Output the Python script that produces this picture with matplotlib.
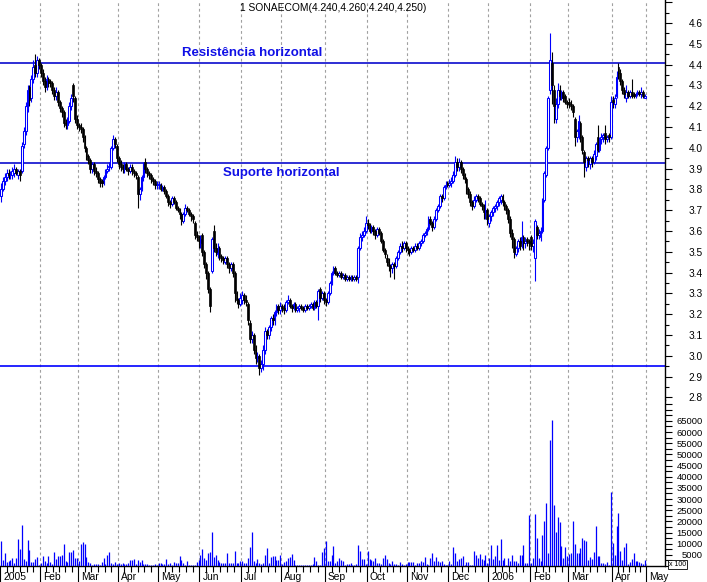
import matplotlib
matplotlib.use('Agg')
import matplotlib.pyplot as plt
import matplotlib.transforms as mtransforms
from matplotlib.ticker import MultipleLocator, FuncFormatter, FixedLocator
import numpy as np
import pandas as pd

plt.rcParams['font.family'] = ['Liberation Sans', 'DejaVu Sans']

# ---------------- data ----------------
title = "1 SONAECOM(4.240,4.260,4.240,4.250)"
holidays = ['2005-03-25', '2005-03-28', '2005-12-26', '2006-04-14', '2006-04-17']
month_labels = ['2005', 'Feb', 'Mar', 'Apr', 'May', 'Jun', 'Jul', 'Aug', 'Sep',
                'Oct', 'Nov', 'Dec', '2006', 'Feb', 'Mar', 'Apr', 'May']

opens = [
    3.77, 3.80, 3.84, 3.86, 3.88, 3.87, 3.87, 3.88, 3.90, 3.87, 3.89, 3.89, 4.02, 4.08, 4.19, 4.29, 4.24, 4.33, 4.40, 4.36, 4.42,
    4.40, 4.36, 4.32, 4.29, 4.33, 4.32, 4.31, 4.28, 4.25, 4.27, 4.22, 4.19, 4.17, 4.12, 4.11, 4.13, 4.20, 4.30, 4.24, 4.14,
    4.11, 4.10, 4.09, 4.05, 4.00, 3.96, 3.94, 3.90, 3.92, 3.89, 3.88, 3.85, 3.84, 3.83, 3.86, 3.89, 3.91, 3.91, 4.00, 4.04, 4.01,
    3.95, 3.92, 3.91, 3.90, 3.92, 3.90, 3.89, 3.91, 3.89, 3.88, 3.86, 3.78, 3.80, 3.86, 3.93, 3.90, 3.88, 3.87, 3.85, 3.84, 3.82,
    3.82, 3.82, 3.80, 3.81, 3.79, 3.77, 3.74, 3.73, 3.76, 3.74, 3.71, 3.70, 3.68, 3.65, 3.68, 3.71, 3.70, 3.68, 3.67, 3.64, 3.58, 3.57,
    3.54, 3.58, 3.50, 3.44, 3.40, 3.32, 3.41, 3.60, 3.52, 3.49, 3.52, 3.48, 3.47, 3.45, 3.47, 3.44, 3.42, 3.44, 3.40, 3.30, 3.27, 3.25,
    3.27, 3.29, 3.27, 3.25, 3.16, 3.08, 3.10, 3.03, 2.99, 3.00, 2.94, 2.96, 3.03, 3.12, 3.10, 3.14, 3.18, 3.17, 3.21, 3.24, 3.22,
    3.24, 3.23, 3.22, 3.26, 3.27, 3.24, 3.23, 3.25, 3.22, 3.23, 3.24, 3.23, 3.22, 3.24, 3.23, 3.24, 3.25, 3.23, 3.26, 3.24, 3.32, 3.28, 3.30,
    3.27, 3.26, 3.30, 3.35, 3.40, 3.42, 3.40, 3.39, 3.40, 3.38, 3.39, 3.37, 3.38, 3.37, 3.38, 3.37, 3.38, 3.38, 3.52, 3.57, 3.58, 3.60,
    3.64, 3.63, 3.60, 3.62, 3.60, 3.58, 3.61, 3.59, 3.55, 3.51, 3.47, 3.45, 3.43, 3.42, 3.44, 3.43, 3.47, 3.50, 3.53, 3.52, 3.54,
    3.52, 3.51, 3.50, 3.52, 3.51, 3.53, 3.52, 3.54, 3.55, 3.58, 3.59, 3.61, 3.66, 3.64, 3.62, 3.66, 3.70, 3.72, 3.77, 3.76, 3.81, 3.83,
    3.82, 3.83, 3.84, 3.87, 3.93, 3.91, 3.93, 3.90, 3.87, 3.85, 3.80, 3.78, 3.74, 3.72, 3.75, 3.77, 3.76, 3.73, 3.72, 3.69, 3.70,
    3.64, 3.67, 3.69, 3.71, 3.72, 3.74, 3.75, 3.77, 3.74, 3.72, 3.70, 3.66, 3.59, 3.56, 3.49, 3.52, 3.55, 3.54, 3.57, 3.54, 3.56, 3.55,
    3.57, 3.53, 3.47, 3.62, 3.58, 3.57, 3.60, 3.75, 3.87, 4.00, 4.28, 4.41, 4.28, 4.14, 4.21, 4.28, 4.24, 4.27, 4.25, 4.22,
    4.22, 4.21, 4.20, 4.14, 4.05, 4.06, 4.12, 4.05, 3.98, 3.91, 3.95, 3.92, 3.95, 3.93, 3.96, 4.05, 3.99, 4.04, 4.05, 4.07, 4.04, 4.06, 4.05,
    4.23, 4.21, 4.25, 4.39, 4.36, 4.32, 4.28, 4.24, 4.27, 4.25, 4.27, 4.26, 4.25, 4.26, 4.27, 4.26, 4.27, 4.24,
]
highs = [
    3.83, 3.86, 3.88, 3.90, 3.90, 3.89, 3.91, 3.92, 3.91, 3.90, 3.90, 4.03, 4.10, 4.22, 4.30, 4.30, 4.35, 4.42, 4.45, 4.44, 4.43,
    4.41, 4.38, 4.34, 4.35, 4.34, 4.33, 4.32, 4.29, 4.29, 4.28, 4.23, 4.20, 4.18, 4.14, 4.15, 4.22, 4.26, 4.31, 4.25, 4.16,
    4.12, 4.12, 4.10, 4.06, 4.01, 3.97, 3.95, 3.93, 3.93, 3.91, 3.89, 3.86, 3.85, 3.87, 3.90, 3.92, 3.93, 4.01, 4.06, 4.05, 4.02,
    3.96, 3.94, 3.92, 3.93, 3.93, 3.91, 3.92, 3.92, 3.90, 3.89, 3.87, 3.81, 3.87, 3.93, 3.95, 3.91, 3.89, 3.88, 3.86, 3.85, 3.84,
    3.84, 3.83, 3.82, 3.82, 3.80, 3.78, 3.75, 3.77, 3.77, 3.75, 3.72, 3.71, 3.69, 3.69, 3.73, 3.72, 3.71, 3.69, 3.68, 3.65, 3.60, 3.58,
    3.58, 3.59, 3.51, 3.45, 3.41, 3.33, 3.57, 3.63, 3.54, 3.54, 3.53, 3.49, 3.48, 3.48, 3.48, 3.45, 3.45, 3.45, 3.41, 3.31, 3.28, 3.30,
    3.31, 3.30, 3.29, 3.26, 3.17, 3.12, 3.11, 3.05, 3.02, 3.01, 2.98, 3.05, 3.14, 3.13, 3.15, 3.19, 3.20, 3.22, 3.25, 3.25, 3.26,
    3.25, 3.25, 3.27, 3.29, 3.28, 3.25, 3.26, 3.26, 3.24, 3.25, 3.25, 3.24, 3.25, 3.25, 3.25, 3.26, 3.26, 3.27, 3.27, 3.32, 3.33, 3.31, 3.31,
    3.28, 3.31, 3.36, 3.41, 3.43, 3.43, 3.41, 3.41, 3.41, 3.40, 3.40, 3.39, 3.39, 3.39, 3.39, 3.39, 3.39, 3.53, 3.59, 3.60, 3.62, 3.67,
    3.66, 3.64, 3.63, 3.63, 3.61, 3.62, 3.62, 3.60, 3.56, 3.52, 3.49, 3.47, 3.44, 3.45, 3.45, 3.48, 3.51, 3.54, 3.55, 3.55, 3.55,
    3.53, 3.52, 3.53, 3.53, 3.54, 3.54, 3.55, 3.56, 3.59, 3.60, 3.62, 3.67, 3.67, 3.65, 3.67, 3.71, 3.73, 3.78, 3.78, 3.82, 3.84, 3.84,
    3.85, 3.86, 3.89, 3.96, 3.95, 3.95, 3.94, 3.91, 3.88, 3.86, 3.81, 3.79, 3.75, 3.77, 3.78, 3.78, 3.77, 3.74, 3.73, 3.75, 3.71,
    3.68, 3.70, 3.72, 3.73, 3.75, 3.77, 3.78, 3.78, 3.75, 3.73, 3.71, 3.67, 3.61, 3.57, 3.53, 3.56, 3.57, 3.65, 3.58, 3.57, 3.57, 3.56,
    3.58, 3.56, 3.66, 3.63, 3.61, 3.62, 3.76, 3.89, 4.01, 4.25, 4.55, 4.46, 4.30, 4.24, 4.31, 4.30, 4.28, 4.28, 4.26, 4.23,
    4.24, 4.23, 4.21, 4.15, 4.09, 4.16, 4.13, 4.06, 3.99, 3.96, 3.96, 3.96, 3.96, 3.99, 4.03, 4.11, 4.05, 4.07, 4.07, 4.11, 4.06, 4.07, 4.25,
    4.25, 4.26, 4.37, 4.41, 4.38, 4.33, 4.29, 4.30, 4.28, 4.28, 4.33, 4.27, 4.27, 4.28, 4.28, 4.29, 4.28, 4.26,
]
lows = [
    3.74, 3.79, 3.82, 3.84, 3.85, 3.85, 3.85, 3.86, 3.87, 3.85, 3.84, 3.88, 4.00, 4.06, 4.17, 4.20, 4.22, 4.31, 4.34, 4.34, 4.38,
    4.34, 4.30, 4.27, 4.28, 4.29, 4.29, 4.26, 4.23, 4.23, 4.20, 4.17, 4.15, 4.10, 4.09, 4.09, 4.12, 4.18, 4.22, 4.12, 4.09,
    4.08, 4.07, 4.03, 3.98, 3.94, 3.92, 3.88, 3.88, 3.87, 3.86, 3.83, 3.81, 3.81, 3.82, 3.85, 3.88, 3.89, 3.90, 3.99, 4.00, 3.93,
    3.90, 3.89, 3.88, 3.88, 3.89, 3.87, 3.88, 3.87, 3.86, 3.85, 3.71, 3.75, 3.79, 3.84, 3.88, 3.86, 3.85, 3.83, 3.82, 3.80, 3.80,
    3.80, 3.79, 3.79, 3.78, 3.76, 3.72, 3.71, 3.72, 3.73, 3.70, 3.69, 3.66, 3.63, 3.64, 3.67, 3.69, 3.67, 3.65, 3.64, 3.56, 3.55, 3.52,
    3.52, 3.48, 3.42, 3.37, 3.30, 3.21, 3.40, 3.50, 3.48, 3.47, 3.46, 3.45, 3.44, 3.44, 3.42, 3.40, 3.41, 3.38, 3.26, 3.25, 3.23, 3.24,
    3.25, 3.25, 3.24, 3.15, 3.06, 3.06, 3.01, 2.96, 2.97, 2.91, 2.92, 2.93, 3.01, 3.08, 3.08, 3.12, 3.15, 3.15, 3.19, 3.20, 3.20,
    3.21, 3.20, 3.21, 3.25, 3.23, 3.21, 3.22, 3.21, 3.21, 3.21, 3.22, 3.21, 3.21, 3.22, 3.22, 3.23, 3.22, 3.22, 3.23, 3.17, 3.26, 3.27, 3.25,
    3.24, 3.25, 3.29, 3.34, 3.39, 3.39, 3.38, 3.38, 3.37, 3.37, 3.36, 3.36, 3.36, 3.36, 3.36, 3.36, 3.36, 3.35, 3.51, 3.55, 3.57, 3.59,
    3.61, 3.59, 3.59, 3.58, 3.56, 3.57, 3.58, 3.54, 3.50, 3.47, 3.43, 3.41, 3.38, 3.40, 3.37, 3.42, 3.46, 3.49, 3.50, 3.51, 3.50,
    3.49, 3.48, 3.49, 3.50, 3.50, 3.51, 3.51, 3.53, 3.54, 3.57, 3.58, 3.60, 3.63, 3.60, 3.61, 3.65, 3.69, 3.71, 3.74, 3.75, 3.80, 3.81,
    3.81, 3.81, 3.83, 3.86, 3.89, 3.89, 3.88, 3.85, 3.83, 3.78, 3.76, 3.72, 3.70, 3.71, 3.74, 3.74, 3.72, 3.70, 3.66, 3.66, 3.63,
    3.62, 3.65, 3.67, 3.69, 3.70, 3.72, 3.73, 3.72, 3.70, 3.68, 3.64, 3.57, 3.52, 3.47, 3.48, 3.50, 3.51, 3.52, 3.51, 3.52, 3.53, 3.51,
    3.51, 3.50, 3.36, 3.56, 3.56, 3.55, 3.59, 3.74, 3.86, 3.99, 4.26, 4.21, 4.12, 4.12, 4.19, 4.23, 4.23, 4.22, 4.21, 4.19,
    4.19, 4.18, 4.15, 4.01, 4.03, 4.04, 4.03, 3.97, 3.86, 3.89, 3.91, 3.90, 3.91, 3.92, 3.94, 3.98, 3.98, 4.02, 4.03, 4.02, 4.03, 4.03, 4.04,
    4.19, 4.19, 4.24, 4.33, 4.30, 4.26, 4.24, 4.22, 4.24, 4.24, 4.24, 4.24, 4.24, 4.25, 4.25, 4.24, 4.24, 4.24,
]
closes = [
    3.80, 3.84, 3.86, 3.88, 3.87, 3.88, 3.89, 3.90, 3.88, 3.89, 3.87, 4.01, 4.08, 4.20, 4.28, 4.23, 4.33, 4.39, 4.36, 4.42, 4.40,
    4.36, 4.32, 4.29, 4.33, 4.31, 4.31, 4.28, 4.25, 4.27, 4.22, 4.19, 4.17, 4.12, 4.11, 4.13, 4.20, 4.24, 4.25, 4.14, 4.11,
    4.10, 4.09, 4.05, 4.00, 3.96, 3.94, 3.90, 3.92, 3.89, 3.88, 3.85, 3.83, 3.83, 3.86, 3.89, 3.90, 3.91, 4.00, 4.04, 4.02, 3.95,
    3.92, 3.91, 3.90, 3.92, 3.90, 3.89, 3.91, 3.89, 3.88, 3.87, 3.78, 3.80, 3.86, 3.92, 3.90, 3.88, 3.87, 3.85, 3.84, 3.82, 3.82,
    3.82, 3.80, 3.81, 3.79, 3.77, 3.74, 3.73, 3.76, 3.74, 3.71, 3.70, 3.68, 3.65, 3.68, 3.71, 3.70, 3.68, 3.67, 3.66, 3.58, 3.57, 3.55,
    3.56, 3.50, 3.44, 3.40, 3.32, 3.24, 3.56, 3.52, 3.50, 3.52, 3.48, 3.47, 3.46, 3.47, 3.44, 3.42, 3.44, 3.40, 3.30, 3.27, 3.25, 3.28,
    3.29, 3.27, 3.26, 3.17, 3.08, 3.10, 3.03, 2.99, 3.00, 2.94, 2.96, 3.03, 3.12, 3.10, 3.14, 3.18, 3.17, 3.21, 3.24, 3.22, 3.24,
    3.23, 3.22, 3.26, 3.27, 3.24, 3.23, 3.25, 3.22, 3.23, 3.24, 3.23, 3.22, 3.24, 3.23, 3.24, 3.25, 3.23, 3.26, 3.24, 3.31, 3.28, 3.30, 3.27,
    3.26, 3.30, 3.35, 3.40, 3.42, 3.40, 3.39, 3.40, 3.38, 3.39, 3.37, 3.38, 3.37, 3.38, 3.37, 3.38, 3.37, 3.52, 3.57, 3.58, 3.60, 3.64,
    3.63, 3.60, 3.62, 3.60, 3.58, 3.61, 3.59, 3.55, 3.51, 3.49, 3.45, 3.43, 3.42, 3.44, 3.43, 3.47, 3.50, 3.53, 3.52, 3.54, 3.52,
    3.51, 3.50, 3.52, 3.51, 3.53, 3.52, 3.54, 3.55, 3.58, 3.59, 3.61, 3.66, 3.64, 3.62, 3.66, 3.70, 3.72, 3.77, 3.76, 3.81, 3.82, 3.82,
    3.83, 3.84, 3.87, 3.93, 3.91, 3.93, 3.90, 3.87, 3.85, 3.80, 3.78, 3.74, 3.72, 3.75, 3.77, 3.76, 3.73, 3.72, 3.69, 3.70, 3.66,
    3.67, 3.69, 3.71, 3.72, 3.74, 3.76, 3.77, 3.74, 3.72, 3.70, 3.66, 3.59, 3.56, 3.50, 3.52, 3.55, 3.53, 3.57, 3.54, 3.55, 3.55, 3.54,
    3.53, 3.54, 3.65, 3.58, 3.59, 3.60, 3.75, 3.88, 4.00, 4.24, 4.42, 4.30, 4.20, 4.21, 4.28, 4.25, 4.27, 4.24, 4.22, 4.21,
    4.21, 4.20, 4.17, 4.05, 4.08, 4.13, 4.05, 3.99, 3.93, 3.95, 3.94, 3.95, 3.93, 3.97, 4.02, 3.99, 4.04, 4.05, 4.06, 4.04, 4.05, 4.05, 4.22,
    4.22, 4.24, 4.34, 4.36, 4.32, 4.28, 4.26, 4.27, 4.25, 4.27, 4.25, 4.25, 4.26, 4.27, 4.26, 4.27, 4.25, 4.25,
]
volumes = [
    11000, 2700, 5700, 2000, 2250, 2700, 3450, 1500, 3450, 12000, 7650, 18450, 3000, 2250, 11700, 7200, 1950, 1950, 3000, 4200, 500,
    1200, 4500, 2250, 1200, 4500, 1950, 750, 6450, 3000, 4500, 4500, 4950, 9900, 2250, 1950, 6300, 6300, 7200, 3750, 3450,
    2250, 9900, 10650, 9900, 4200, 1950, 1200, 600, 900, 900, 750, 500, 1950, 3750, 800, 4950, 6300, 1500, 700, 1950, 1000,
    1500, 800, 1200, 900, 900, 1200, 2700, 2700, 3000, 750, 2700, 1950, 2700, 900, 900, 750, 450, 600, 500, 700, 400,
    1200, 1200, 750, 750, 3150, 750, 1200, 600, 1800, 1350, 1200, 4500, 2700, 1200, 600, 2400, 600, 600, 600, 600, 1650, 2700,
    4950, 7650, 3750, 2700, 5700, 6450, 15300, 4200, 4950, 2700, 1650, 1500, 1500, 1500, 5700, 1500, 1500, 1500, 6900, 1500, 1200, 2250,
    2250, 1500, 1200, 3750, 8700, 15300, 2250, 1200, 3300, 1500, 750, 1200, 4950, 8250, 1200, 4200, 4650, 4650, 2700, 2700, 4950,
    750, 1950, 2250, 3450, 4200, 5400, 2700, 500, 450, 450, 600, 600, 600, 450, 450, 600, 750, 4200, 2250, 450, 450, 6150, 8000,
    11000, 2250, 2250, 4950, 9150, 1200, 2250, 3600, 2700, 2100, 600, 900, 900, 1200, 450, 500, 700, 9450, 6750, 3300, 3000, 1000,
    6750, 3000, 2700, 2250, 3600, 1350, 1200, 750, 3600, 4950, 3000, 1200, 800, 2100, 750, 750, 600, 1650, 750, 500, 900,
    1650, 1800, 1800, 1800, 600, 1200, 1200, 2250, 1650, 4050, 750, 450, 3600, 5850, 2400, 4050, 2250, 1650, 2100, 750, 500, 600,
    2250, 750, 8550, 6000, 2250, 3000, 3750, 4500, 600, 1950, 1650, 600, 500, 6750, 4950, 3450, 5550, 3150, 2700, 4950, 1200,
    3750, 9450, 3000, 4500, 9450, 2700, 12150, 2700, 3750, 450, 3750, 2250, 4950, 2250, 2250, 1200, 4950, 4950, 9450, 1200, 1500, 23000,
    1200, 3750, 23250, 12750, 3450, 2250, 13950, 19950, 28200, 5700, 56400, 65400, 27150, 15450, 21900, 19500, 9150, 3450, 8400, 4500,
    5400, 5700, 19950, 9750, 5700, 6000, 8250, 12750, 11700, 11250, 2700, 4200, 3000, 6450, 17700, 4500, 4500, 1200, 1200, 750, 1950, 500, 33000,
    10200, 4950, 17700, 23700, 6750, 2700, 8700, 10500, 750, 1650, 3150, 5700, 2250, 2250, 1650, 1500, 750, 2700,
]
resistance = 4.41
support = 3.925
low_line = 2.95

# ---------------- dates ----------------
dates = pd.bdate_range('2005-01-03', '2006-04-28')
dates = dates[~dates.isin(pd.to_datetime(holidays))]
n = len(dates)
idx = np.arange(n)
o = np.array(opens); h = np.array(highs); l = np.array(lows); c = np.array(closes)
v = np.array(volumes)

month_starts = [i for i in range(n) if i == 0 or dates[i].month != dates[i - 1].month] + [n]

# ---------------- figure ----------------
W, H = 707, 582
fig = plt.figure(figsize=(W / 100, H / 100), dpi=100)
fig.patch.set_facecolor('white')
axw = 665 / W
axp = fig.add_axes([0, (H - 400) / H, axw, 400 / H])
axv = fig.add_axes([0, (H - 566) / H, axw, 166 / H])

XL = (-0.5, 349.5)
BLUE = '#0000ff'
for ax in (axp, axv):
    ax.set_xlim(*XL)
    ax.set_facecolor('white')
    for s in ('top', 'left'):
        ax.spines[s].set_visible(False)
    ax.spines['right'].set_linewidth(1.0)
    ax.yaxis.tick_right()
    for b in month_starts[1:]:
        ax.axvline(b - 0.5, color='#a0a0a0', lw=0.8, ls=(0, (2.5, 2.5)), zorder=0)

axp.spines['bottom'].set_visible(False)
axp.set_xticks([])

# price panel
axp.set_ylim(4.6 - 377 / 208, 4.6 + 23 / 208)
up = c >= o
dn = ~up
axp.vlines(idx[up], l[up], h[up], color=BLUE, lw=0.8, zorder=3)
axp.vlines(idx[dn], l[dn], h[dn], color='black', lw=0.8, zorder=3)
bh = np.maximum(np.abs(c - o), 0.004)
axp.bar(idx[up], bh[up], bottom=np.minimum(o, c)[up], width=0.9,
        facecolor='white', edgecolor=BLUE, linewidth=0.75, zorder=4)
axp.bar(idx[dn], bh[dn], bottom=np.minimum(o, c)[dn], width=0.9,
        facecolor='black', edgecolor='black', linewidth=0.5, zorder=4)

axp.axhline(resistance, color='#0a0acd', lw=1.2, zorder=2)
axp.axhline(support, color='#0a0acd', lw=1.2, zorder=2)
axp.axhline(low_line, color=BLUE, lw=1.2, zorder=2)

axp.yaxis.set_major_locator(MultipleLocator(0.1))
axp.yaxis.set_minor_locator(MultipleLocator(0.05))
axp.yaxis.set_major_formatter(FuncFormatter(lambda y, p: f'{y:.1f}' if 2.75 < y < 4.65 else ''))
axp.tick_params(axis='y', which='major', direction='out', length=5, width=0.8,
                labelsize=7.3, pad=22.3)
axp.tick_params(axis='y', which='minor', direction='out', length=3, width=0.8)
for t in axp.get_yticklabels():
    t.set_horizontalalignment('right')

axp.text(95.3, 4.456, 'Resistência horizontal', color='#1010e6', fontsize=9.5,
         fontweight='bold', va='center', ha='left')
axp.text(116.9, 3.879, 'Suporte horizontal', color='#1010e6', fontsize=9.5,
         fontweight='bold', va='center', ha='left')

# volume panel
axv.set_ylim(0, 166 / 2.233 * 1000)
axv.vlines(idx, 0, v, color=BLUE, lw=0.9, zorder=3)
axv.yaxis.set_major_locator(MultipleLocator(5000))
axv.yaxis.set_minor_locator(MultipleLocator(2500))
axv.yaxis.set_major_formatter(FuncFormatter(lambda y, p: f'{y:.0f}' if 4000 < y < 66000 else ''))
axv.tick_params(axis='y', which='major', direction='out', length=5, width=0.8,
                labelsize=6.8, pad=22.3)
axv.tick_params(axis='y', which='minor', direction='out', length=5, width=0.8)
for t in axv.get_yticklabels():
    t.set_horizontalalignment('right')
axv.spines['bottom'].set_linewidth(1.0)

major_x = [b - 0.5 for b in month_starts]
minor_x = []
for a, b in zip(month_starts[:-1], month_starts[1:]):
    for k in range(1, 6):
        minor_x.append(a - 0.5 + (b - a) * k / 6)
axv.xaxis.set_major_locator(FixedLocator(major_x))
axv.xaxis.set_minor_locator(FixedLocator(minor_x))
axv.set_xticklabels([])
axv.tick_params(axis='x', which='major', direction='out', length=11.5, width=0.8)
axv.tick_params(axis='x', which='minor', direction='out', length=4.3, width=0.8)

trans = mtransforms.blended_transform_factory(axv.transData, axv.transAxes)
for b, lab in zip(month_starts, month_labels):
    axv.text(b - 0.5 + 1.6, -11 / 166, lab, transform=trans, fontsize=7.4,
             ha='left', va='center', clip_on=False)

fig.text(333 / W, 1 - 8 / H, title, ha='center', va='center', fontsize=7.4)
fig.text(669 / W, 1 - 564.5 / H, 'x 100', ha='left', va='center', fontsize=5.0,
         bbox=dict(boxstyle='square,pad=0.12', facecolor='white', edgecolor='black', linewidth=0.6),
         zorder=10)

fig.savefig('out.png', dpi=100, facecolor='white')
